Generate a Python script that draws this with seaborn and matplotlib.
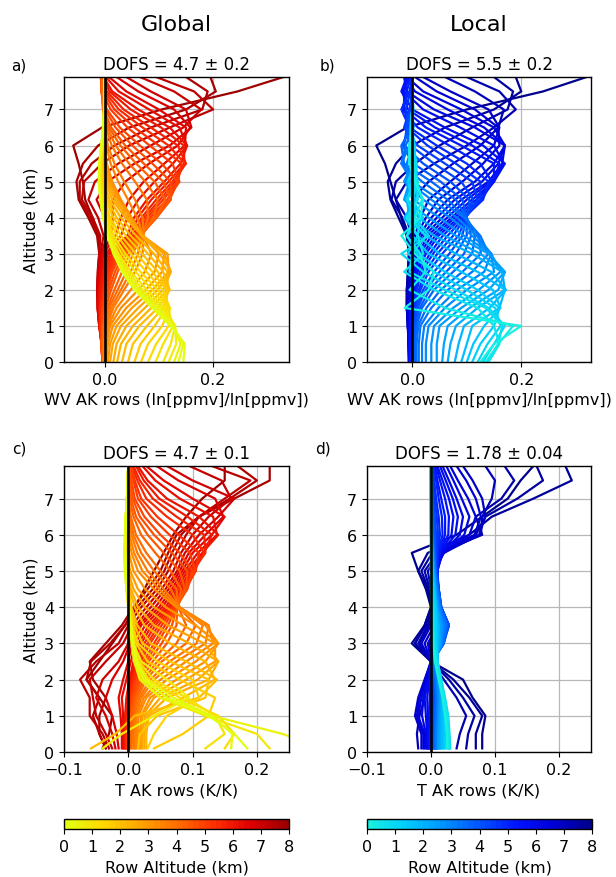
import numpy as np
import pandas as pd
import seaborn as sns
import matplotlib
matplotlib.use("Agg")
import matplotlib.pyplot as plt
from matplotlib.colors import LinearSegmentedColormap, Normalize
from matplotlib.cm import ScalarMappable

# ---------------- data ----------------
ROW_ALT = [0.0, 0.4, 0.8, 1.2, 1.6, 2.0, 2.4, 2.8, 3.2, 3.6, 4.0,
           4.4, 4.8, 5.2, 5.6, 6.0, 6.4, 6.8, 7.2, 7.6, 7.9]
ROW_ALT_MID = [0.2, 0.6, 1.0, 1.4, 1.8, 2.2, 2.6, 3.0, 3.4, 3.8,
               4.2, 4.6, 5.0, 5.4, 5.8, 6.2, 6.6, 7.0, 7.4]
LEVELS_WV = [0.0, 0.5, 1.0, 1.5, 2.0, 2.5, 3.0, 3.5, 4.0, 4.5, 5.0,
             5.5, 6.0, 6.5, 7.0, 7.5, 7.9]
LEVELS_T = [0.1, 0.5, 1.0, 1.5, 2.0, 2.5, 3.0, 3.5, 4.0, 4.5, 5.0,
            5.5, 6.0, 6.5, 7.0, 7.5, 7.9]

# AK row values (x1000), one list per row altitude, one entry per level
AK_WV_GLOBAL = [
    [145, 148, 122, 88, 55, 32, 16, 5, -3, -8, -11, -10, -6, -3, -1, 0, 0],
    [128, 140, 128, 98, 64, 38, 20, 7, -2, -7, -10, -9, -6, -3, -1, 0, 0],
    [108, 122, 130, 110, 78, 48, 26, 10, 0, -6, -9, -8, -5, -2, 0, 0, 0],
    [80, 95, 118, 120, 98, 66, 38, 17, 4, -4, -7, -7, -4, -2, 0, 0, 0],
    [55, 66, 92, 115, 114, 88, 58, 30, 10, -1, -5, -6, -4, -2, 0, 0, 0],
    [32, 40, 64, 98, 120, 108, 80, 48, 22, 5, -3, -5, -4, -2, 0, 0, 0],
    [16, 22, 40, 74, 108, 122, 102, 68, 38, 14, 2, -3, -3, -2, 0, 0, 0],
    [6, 10, 22, 50, 88, 118, 116, 70, 48, 24, 8, 0, -2, -1, 0, 0, 0],
    [0, 3, 10, 30, 62, 92, 100, 70, 50, 30, 14, 4, 0, -2, -1, 0, 0],
    [-2, -1, 4, 16, 36, 56, 70, 72, 70, 56, 36, 18, 6, 0, -2, -2, -1],
    [-3, -3, 0, 8, 24, 40, 52, 68, 90, 98, 75, 45, 20, 5, -3, -4, -3],
    [-4, -5, -3, 2, 12, 24, 40, 65, 96, 122, 108, 72, 38, 12, -2, -6, -5],
    [-4, -6, -5, -2, 5, 14, 30, 62, 88, 120, 135, 105, 65, 28, 4, -6, -7],
    [-4, -6, -7, -5, 0, 8, 22, 58, 78, 108, 135, 142, 100, 55, 18, -3, -7],
    [-3, -6, -8, -8, -4, 2, 14, 52, 68, 95, 125, 150, 135, 85, 35, 4, -5],
    [-2, -6, -9, -10, -8, -4, 6, 42, 54, 78, 110, 140, 152, 120, 62, 14, -2],
    [-1, -5, -10, -12, -11, -8, -2, 20, 30, 45, 72, 110, 148, 150, 100, 40, 8],
    [0, -4, -10, -13, -13, -11, -6, 4, 0, -15, 5, 55, 120, 160, 150, 85, 40],
    [0, -3, -9, -12, -14, -13, -10, -8, -22, -42, -38, -5, 45, 120, 200, 165, 95],
    [0, -2, -6, -10, -12, -12, -10, -14, -30, -48, -52, -40, -12, 45, 150, 205, 195],
    [0, -1, -4, -8, -10, -10, -8, -12, -22, -36, -40, -48, -58, -5, 105, 245, 330],
]
AK_WV_GLOBAL_MID = [
    [136, 145, 126, 94, 60, 35, 18, 6, -3, -8, -10, -10, -6, -3, -1, 0, 0],
    [118, 132, 130, 104, 70, 43, 23, 8, -1, -7, -10, -9, -5, -2, 0, 0, 0],
    [94, 108, 126, 116, 88, 57, 32, 13, 2, -5, -8, -8, -5, -2, 0, 0, 0],
    [67, 80, 106, 120, 107, 77, 48, 23, 7, -3, -6, -7, -4, -2, 0, 0, 0],
    [43, 52, 78, 108, 118, 98, 69, 39, 16, 2, -4, -6, -4, -2, 0, 0, 0],
    [23, 30, 52, 86, 116, 116, 91, 58, 30, 9, -1, -4, -4, -2, 0, 0, 0],
    [10, 15, 30, 62, 98, 122, 110, 69, 43, 19, 5, -2, -3, -1, 0, 0, 0],
    [3, 6, 15, 40, 76, 106, 110, 70, 49, 27, 11, 2, -1, -2, -1, 0, 0],
    [-1, 1, 7, 22, 48, 74, 86, 71, 60, 43, 25, 11, 3, -1, -2, -1, -1],
    [-2, -2, 2, 12, 30, 48, 61, 70, 80, 78, 56, 32, 13, 2, -3, -3, -2],
    [-3, -4, -2, 5, 18, 32, 46, 67, 94, 112, 92, 58, 29, 8, -3, -5, -4],
    [-4, -6, -4, 0, 8, 19, 35, 64, 92, 122, 122, 88, 51, 20, 1, -6, -6],
    [-4, -6, -6, -4, 2, 11, 26, 60, 83, 115, 138, 125, 83, 42, 11, -5, -7],
    [-4, -6, -8, -7, -2, 5, 18, 55, 73, 102, 130, 148, 118, 70, 26, 0, -6],
    [-3, -6, -9, -9, -6, -1, 10, 47, 61, 86, 118, 147, 146, 104, 48, 9, -4],
    [-2, -6, -10, -11, -10, -6, 2, 30, 42, 62, 92, 126, 152, 138, 82, 26, 2],
    [-1, -5, -10, -13, -12, -10, -4, 12, 15, 15, 38, 82, 135, 158, 128, 62, 22],
    [0, -4, -10, -13, -14, -12, -8, -2, -12, -30, -18, 25, 85, 145, 178, 128, 65],
    [0, -3, -8, -11, -13, -12, -10, -11, -26, -46, -46, -24, 18, 85, 180, 190, 150],
]

AK_WV_LOCAL = [
    [125, 150, 200, -14, 30, 40, 5, -20, 15, 20, 5, -5, -5, 0, 2, 0, 0],
    [140, 160, 150, 120, 40, -15, 20, 10, -10, 10, 10, -5, -5, 0, 0, 0, 0],
    [130, 150, 170, 140, 80, 20, -20, 30, 5, -10, 8, 8, -3, -3, 0, 0, 0],
    [110, 125, 150, 160, 120, 60, 10, -10, 20, 0, -8, 5, 5, -2, 0, 0, 0],
    [90, 100, 110, 160, 170, 120, 50, 10, -15, 10, 5, -5, 0, 2, 0, 0, 0],
    [65, 70, 80, 120, 170, 165, 110, 40, -5, -10, 5, 2, -3, 0, 0, 0, 0],
    [45, 45, 50, 90, 140, 170, 140, 80, 30, -15, -5, 5, 0, -2, 0, 0, 0],
    [25, 25, 30, 60, 100, 150, 145, 110, 70, 20, -15, 0, 3, -1, 0, 0, 0],
    [12, 12, 15, 35, 65, 110, 140, 125, 95, 50, 0, -20, -5, 2, 0, 0, 0],
    [5, 5, 8, 18, 40, 75, 110, 115, 100, 80, 35, -15, -20, 0, 2, 0, 0],
    [2, 3, 5, 10, 25, 50, 80, 100, 100, 105, 70, 20, -15, -10, 0, 0, 0],
    [0, 2, 3, 5, 15, 30, 55, 85, 98, 120, 110, 60, 10, -15, -5, 0, 0],
    [-2, 0, 0, 2, 8, 18, 38, 65, 95, 130, 140, 100, 45, -5, -20, -5, 0],
    [-4, -3, -2, 0, 5, 10, 25, 48, 85, 125, 150, 150, 90, 25, -15, -15, -5],
    [-5, -5, -4, -2, 2, 5, 15, 35, 72, 110, 150, 170, 130, 60, 0, -20, -10],
    [-6, -6, -5, -4, 0, 2, 8, 22, 55, 90, 140, 165, 170, 115, 40, -10, -15],
    [-6, -7, -7, -6, -3, 0, 3, 12, 35, 65, 115, 150, 170, 150, 90, 20, -10],
    [-5, -7, -8, -8, -6, -3, 0, 5, 15, 30, 70, 110, 150, 160, 140, 70, 20],
    [-4, -6, -8, -10, -9, -6, -3, -2, -10, -30, -10, 40, 100, 150, 190, 160, 100],
    [-3, -5, -7, -10, -10, -8, -6, -10, -25, -40, -45, -30, 0, 60, 150, 200, 190],
    [-2, -4, -6, -8, -9, -8, -6, -10, -20, -30, -40, -50, -66, -10, 100, 240, 320],
]
AK_WV_LOCAL_MID = [
    [135, 158, 185, 60, -5, 25, 15, -10, 5, 18, 8, -5, -5, 0, 1, 0, 0],
    [138, 158, 165, 135, 60, -5, 0, 25, -5, 0, 10, 3, -4, -2, 0, 0, 0],
    [120, 138, 162, 152, 100, 40, -8, 10, 15, -8, 0, 8, 2, -3, 0, 0, 0],
    [100, 112, 132, 162, 148, 90, 30, 0, 3, 6, -3, 0, 3, 0, 0, 0, 0],
    [78, 85, 95, 142, 172, 145, 80, 25, -12, 0, 6, -2, -2, 1, 0, 0, 0],
    [55, 58, 65, 105, 158, 170, 125, 60, 12, -14, 0, 4, -2, -1, 0, 0, 0],
    [35, 35, 40, 75, 122, 162, 145, 95, 50, 2, -12, 3, 2, -2, 0, 0, 0],
    [18, 18, 22, 48, 82, 132, 145, 118, 82, 35, -8, -10, 0, 1, 0, 0, 0],
    [8, 8, 11, 26, 52, 92, 126, 122, 98, 65, 18, -20, -12, 1, 1, 0, 0],
    [3, 4, 6, 14, 32, 62, 95, 108, 100, 92, 52, 2, -18, -5, 1, 0, 0],
    [1, 2, 4, 8, 20, 40, 68, 92, 99, 112, 90, 40, -3, -13, -3, 0, 0],
    [-1, 1, 2, 4, 12, 24, 46, 75, 97, 125, 125, 80, 28, -10, -12, -3, 0],
    [-3, -1, -1, 1, 6, 14, 32, 56, 90, 128, 146, 125, 68, 10, -18, -10, -3],
    [-4, -4, -3, -1, 4, 8, 20, 42, 78, 118, 150, 160, 110, 42, -8, -18, -8],
    [-5, -5, -5, -3, 1, 3, 12, 28, 64, 100, 145, 168, 150, 88, 20, -15, -12],
    [-6, -6, -6, -5, -1, 1, 5, 17, 45, 78, 128, 158, 170, 132, 65, 5, -12],
    [-6, -7, -8, -7, -4, -2, 1, 8, 25, 48, 92, 130, 160, 158, 115, 45, 5],
    [-5, -6, -8, -9, -8, -5, -2, 2, 2, 0, 30, 75, 125, 158, 168, 115, 60],
    [-4, -6, -8, -10, -10, -7, -5, -6, -18, -38, -30, 5, 50, 110, 175, 185, 150],
]

AK_T_GLOBAL = [
    [185, 165, 125, 60, 24, 12, 7, 4, 1, -2, -4, -5, -5, -4, -2, -1, 0],
    [300, 240, 130, 50, 18, 9, 5, 3, 0, -3, -5, -6, -5, -4, -2, -1, 0],
    [220, 200, 120, 50, 20, 10, 6, 3, 0, -3, -5, -6, -5, -4, -2, -1, 0],
    [150, 165, 140, 80, 32, 14, 8, 4, 1, -2, -4, -5, -5, -4, -2, -1, 0],
    [40, 85, 125, 135, 80, 30, 12, 6, 2, -1, -3, -4, -4, -3, -2, -1, 0],
    [-58, -20, 10, 110, 138, 90, 35, 14, 5, 0, -3, -4, -4, -3, -2, -1, 0],
    [25, 25, 30, 60, 125, 140, 95, 40, 15, 4, -2, -3, -3, -2, -1, 0, 0],
    [20, 20, 22, 40, 90, 135, 135, 85, 40, 15, 3, -2, -3, -2, -1, 0, 0],
    [15, 15, 16, 28, 60, 105, 140, 120, 75, 40, 15, 5, 0, -2, -1, 0, 0],
    [10, 10, 12, 20, 40, 75, 120, 125, 80, 55, 30, 14, 5, 0, -1, 0, 0],
    [5, 6, 8, 14, 28, 52, 90, 105, 78, 75, 50, 28, 12, 4, 0, 0, 0],
    [2, 3, 5, 10, 20, 38, 60, 75, 76, 88, 80, 55, 30, 12, 4, 2, 2],
    [0, 0, 2, 6, 14, 28, 45, 62, 74, 92, 100, 80, 50, 25, 10, 5, 3],
    [-2, -2, 0, 3, 10, 20, 34, 52, 70, 88, 105, 110, 78, 45, 20, 10, 5],
    [-4, -4, -2, 0, 6, 14, 25, 42, 65, 82, 100, 120, 118, 75, 38, 18, 8],
    [-6, -6, -5, -3, 2, 8, 16, 32, 58, 76, 92, 115, 140, 110, 60, 30, 15],
    [-10, -10, -12, -15, -8, 0, 6, 20, 48, 68, 84, 100, 130, 150, 100, 55, 28],
    [-20, -25, -35, -50, -40, -15, 0, 12, 35, 58, 76, 88, 110, 140, 165, 100, 60],
    [-30, -40, -60, -60, -75, -50, -15, 0, 20, 45, 62, 75, 90, 110, 150, 190, 130],
    [-35, -45, -45, -35, -55, -60, -35, -10, 8, 30, 50, 62, 75, 110, 165, 220, 220],
    [-40, -30, -25, -45, -65, -45, -25, -5, 10, 25, 40, 55, 70, 90, 115, 150, 150],
]
AK_T_GLOBAL_MID = [
    [160, 162, 130, 70, 28, 14, 8, 4, 1, -2, -4, -5, -5, -4, -2, -1, 0],
    [-40, -10, 40, 95, 60, 20, 8, 4, 1, -2, -4, -5, -5, -3, -2, -1, 0],
    [120, 150, 135, 90, 40, 16, 9, 5, 2, -2, -4, -5, -5, -3, -2, -1, 0],
    [30, 40, 60, 110, 100, 45, 15, 7, 3, -1, -3, -4, -4, -3, -2, -1, 0],
    [15, 18, 45, 120, 125, 65, 22, 10, 4, 0, -3, -4, -4, -3, -2, -1, 0],
    [28, 28, 32, 85, 135, 120, 65, 25, 10, 2, -2, -3, -3, -2, -1, 0, 0],
    [22, 22, 26, 50, 108, 140, 118, 62, 26, 8, 0, -2, -3, -2, -1, 0, 0],
    [18, 18, 20, 34, 75, 120, 140, 105, 58, 26, 8, 1, -2, -2, -1, 0, 0],
    [12, 12, 14, 24, 50, 90, 132, 125, 78, 48, 22, 9, 2, -1, -1, 0, 0],
    [8, 8, 10, 17, 34, 64, 106, 116, 80, 66, 40, 20, 8, 2, 0, 0, 0],
    [3, 4, 6, 12, 24, 45, 75, 90, 78, 82, 66, 42, 20, 8, 2, 1, 1],
    [1, 1, 3, 8, 17, 32, 52, 68, 75, 90, 92, 68, 40, 18, 7, 3, 2],
    [-1, -1, 1, 4, 12, 24, 40, 57, 72, 90, 104, 96, 64, 35, 15, 8, 4],
    [-3, -3, -1, 2, 8, 17, 30, 47, 68, 85, 102, 118, 100, 60, 28, 14, 6],
    [-5, -5, -4, -2, 4, 11, 20, 37, 62, 80, 96, 118, 130, 92, 48, 24, 12],
    [-8, -8, -8, -10, -3, 4, 11, 26, 53, 72, 88, 108, 138, 132, 80, 42, 22],
    [-15, -18, -25, -35, -25, -8, 3, 16, 42, 63, 80, 94, 120, 148, 135, 78, 44],
    [-25, -35, -50, -55, -60, -35, -8, 6, 28, 52, 70, 82, 100, 125, 160, 145, 95],
    [-35, -45, -55, -45, -65, -58, -28, -5, 14, 38, 56, 68, 82, 110, 158, 200, 170],
]

AK_T_LOCAL = [
    [25, 25, 22, 18, 12, 6, 3, 2, 1, 0, 0, 0, 0, 0, 0, 0, 0],
    [28, 27, 25, 20, 14, 8, 4, 3, 2, 1, 0, 0, 0, 0, 0, 0, 0],
    [30, 29, 27, 22, 16, 10, 6, 5, 4, 2, 1, 0, 0, 0, 0, 0, 0],
    [22, 22, 22, 20, 16, 10, 8, 8, 6, 4, 2, 1, 0, 0, 0, 0, 0],
    [18, 18, 19, 18, 15, 10, 10, 10, 8, 5, 3, 1, 0, 0, 0, 0, 0],
    [15, 15, 16, 16, 14, 10, 12, 12, 9, 6, 3, 2, 0, 0, 0, 0, 0],
    [12, 12, 13, 14, 12, 8, 14, 15, 10, 7, 4, 2, 1, 0, 0, 0, 0],
    [10, 10, 11, 12, 10, 6, 16, 18, 12, 8, 5, 3, 1, 1, 0, 0, 0],
    [8, 8, 9, 10, 8, 4, 18, 22, 14, 10, 6, 4, 2, 1, 1, 0, 0],
    [6, 6, 7, 8, 6, 2, 20, 25, 15, 11, 7, 5, 3, 2, 1, 1, 0],
    [4, 4, 5, 6, 4, 1, 20, 28, 16, 12, 8, 6, 5, 4, 2, 1, 1],
    [2, 2, 3, 4, 2, 0, 18, 28, 16, 12, 9, 8, 8, 6, 4, 2, 1],
    [0, 0, 1, 2, 1, 0, 15, 28, 15, 12, 10, 10, 14, 12, 8, 5, 3],
    [-2, -2, -1, 0, 0, 0, 12, 25, 14, 11, 10, 12, 22, 22, 16, 10, 6],
    [-4, -4, -3, -2, -1, 0, 8, 20, 12, 10, 10, 14, 32, 35, 28, 18, 10],
    [-6, -6, -8, -10, -5, 0, 2, 15, 10, 8, 10, 18, 45, 50, 40, 28, 18],
    [-10, -10, -20, -15, -8, 0, -5, 10, 8, 6, 5, 20, 60, 70, 58, 42, 30],
    [-15, -15, -25, -20, -10, 0, -15, 0, 5, 2, 0, 20, 75, 85, 80, 65, 50],
    [40, 45, 55, 40, 20, 0, -20, -5, 3, -2, -10, 10, 80, 70, 110, 130, 115],
    [70, 70, 80, 60, 35, 0, -30, -10, 0, -5, -20, -5, 60, 95, 160, 220, 210],
    [80, 80, 85, 65, 50, 0, -25, -10, 0, -8, -20, -30, 40, 80, 120, 140, 160],
]
AK_T_LOCAL_MID = [
    [27, 26, 24, 19, 13, 7, 4, 3, 2, 1, 0, 0, 0, 0, 0, 0, 0],
    [29, 28, 26, 21, 15, 9, 5, 4, 3, 2, 1, 0, 0, 0, 0, 0, 0],
    [26, 25, 24, 21, 16, 10, 7, 6, 5, 3, 2, 1, 0, 0, 0, 0, 0],
    [20, 20, 20, 19, 15, 10, 9, 9, 7, 4, 2, 1, 0, 0, 0, 0, 0],
    [16, 16, 17, 17, 14, 10, 11, 11, 8, 5, 3, 2, 0, 0, 0, 0, 0],
    [13, 13, 14, 15, 13, 9, 13, 13, 9, 6, 4, 2, 1, 0, 0, 0, 0],
    [11, 11, 12, 13, 11, 7, 15, 17, 11, 7, 4, 2, 1, 0, 0, 0, 0],
    [9, 9, 10, 11, 9, 5, 17, 20, 13, 9, 5, 3, 1, 1, 0, 0, 0],
    [7, 7, 8, 9, 7, 3, 19, 24, 14, 10, 6, 4, 2, 1, 1, 0, 0],
    [5, 5, 6, 7, 5, 2, 20, 26, 15, 11, 7, 5, 4, 3, 1, 1, 0],
    [3, 3, 4, 5, 3, 1, 19, 28, 16, 12, 8, 7, 6, 5, 3, 2, 1],
    [1, 1, 2, 3, 2, 0, 17, 28, 16, 12, 9, 9, 11, 9, 6, 3, 2],
    [-1, -1, 0, 1, 1, 0, 14, 27, 14, 11, 10, 11, 18, 17, 12, 8, 4],
    [-3, -3, -2, -1, 0, 0, 10, 23, 13, 10, 10, 13, 27, 28, 22, 14, 8],
    [-5, -5, -5, -6, -3, 0, 5, 18, 11, 9, 10, 16, 38, 42, 34, 23, 14],
    [-8, -8, -14, -12, -6, 0, -2, 12, 9, 7, 8, 19, 52, 60, 48, 35, 24],
    [-12, -12, -22, -18, -9, 0, -10, 5, 6, 4, 2, 20, 68, 78, 70, 55, 40],
    [-20, -22, -18, -10, -5, 0, -18, -3, 4, 0, -5, 15, 78, 80, 95, 100, 85],
    [55, 58, 68, 50, 28, 0, -25, -8, 2, -4, -15, 2, 70, 85, 135, 175, 165],
]

TITLES = ["DOFS = 4.7 \u00b1 0.2", "DOFS = 5.5 \u00b1 0.2",
          "DOFS = 4.7 \u00b1 0.1", "DOFS = 1.78 \u00b1 0.04"]
PANEL_LABELS = ["a)", "b)", "c)", "d)"]
COLUMN_TITLES = ["Global", "Local"]
XLABEL_WV = "WV AK rows (ln[ppmv]/ln[ppmv])"
XLABEL_T = "T AK rows (K/K)"
CB_TICKS = [0, 1, 2, 3, 4, 5, 6, 7, 8]

# ---------------- style ----------------
plt.rcParams["font.family"] = ["DejaVu Sans"]
FS = 11.5

warm = LinearSegmentedColormap.from_list(
    "warm", ["#e2ff10", "#ffd800", "#ffa400", "#ff6e00", "#ff3000", "#e00000", "#9c0000"], N=40)
cool = LinearSegmentedColormap.from_list(
    "cool", ["#18f0e0", "#00ccff", "#0094ff", "#0054ff", "#0014ff", "#0000d8", "#00008c"], N=40)
norm = Normalize(0, 8)

W, H = 616, 878
fig = plt.figure(figsize=(W / 100, H / 100), dpi=100)


def box(l, t, r, b):
    return [l / W, 1 - b / H, (r - l) / W, (b - t) / H]


ax_a = fig.add_axes(box(64, 78, 289, 363))
ax_b = fig.add_axes(box(367, 78, 591, 363))
ax_c = fig.add_axes(box(64, 467, 289, 753))
ax_d = fig.add_axes(box(367, 467, 591, 753))


def draw(ax, levels, matrix, matrix_mid, cmap, xlim, xticks):
    rows = list(zip(ROW_ALT, matrix)) + list(zip(ROW_ALT_MID, matrix_mid))
    rows.sort(key=lambda t: -t[0])  # high rows first, low rows on top
    for r, vals in rows:
        assert len(vals) == len(levels), (r, len(vals))
        sns.lineplot(x=np.array(vals) / 1000.0, y=levels, sort=False,
                     estimator=None, color=cmap(norm(r)), lw=1.6, ax=ax)
    ax.axvline(0, color="black", lw=1.9, zorder=6)
    ax.set_xlim(*xlim)
    ax.set_ylim(0, 7.9)
    ax.set_xticks(xticks)
    ax.set_yticks(range(8))
    ax.grid(True, color="#b8b8b8", lw=0.9)
    ax.set_axisbelow(True)
    ax.tick_params(labelsize=FS)
    for s in ax.spines.values():
        s.set_color("black")
        s.set_linewidth(1.0)


draw(ax_a, LEVELS_WV, AK_WV_GLOBAL, AK_WV_GLOBAL_MID, warm, (-0.075, 0.34), [0.0, 0.2])
draw(ax_b, LEVELS_WV, AK_WV_LOCAL, AK_WV_LOCAL_MID, cool, (-0.083, 0.328), [0.0, 0.2])
draw(ax_c, LEVELS_T, AK_T_GLOBAL, AK_T_GLOBAL_MID, warm, (-0.1, 0.25), [-0.1, 0.0, 0.1, 0.2])
draw(ax_d, LEVELS_T, AK_T_LOCAL, AK_T_LOCAL_MID, cool, (-0.1, 0.25), [-0.1, 0.0, 0.1, 0.2])

for ax, t in zip([ax_a, ax_b, ax_c, ax_d], TITLES):
    ax.set_title(t, fontsize=12, pad=6)
ax_a.set_xlabel(XLABEL_WV, fontsize=FS)
ax_b.set_xlabel(XLABEL_WV, fontsize=FS)
ax_c.set_xlabel(XLABEL_T, fontsize=FS)
ax_d.set_xlabel(XLABEL_T, fontsize=FS)
ax_a.set_ylabel("Altitude (km)", fontsize=FS)
ax_c.set_ylabel("Altitude (km)", fontsize=FS)
ax_b.set_ylabel("")
ax_d.set_ylabel("")

fig.text(176 / W, 1 - 25 / H, COLUMN_TITLES[0], ha="center", va="center", fontsize=16)
fig.text(479 / W, 1 - 25 / H, COLUMN_TITLES[1], ha="center", va="center", fontsize=16)
for (x, y), lab in zip([(19, 66), (327, 66), (19, 449), (323, 449)], PANEL_LABELS):
    fig.text(x / W, 1 - y / H, lab, ha="center", va="center", fontsize=11)

for cmap, (l, r) in zip([warm, cool], [(64, 289), (367, 592)]):
    cax = fig.add_axes(box(l, 820, r, 830))
    cb = fig.colorbar(ScalarMappable(norm=norm, cmap=cmap), cax=cax, orientation="horizontal")
    cb.set_ticks(CB_TICKS)
    cb.ax.tick_params(labelsize=FS)
    cb.set_label("Row Altitude (km)", fontsize=FS)
    cb.outline.set_linewidth(1.0)

fig.savefig("out.png", dpi=100)
